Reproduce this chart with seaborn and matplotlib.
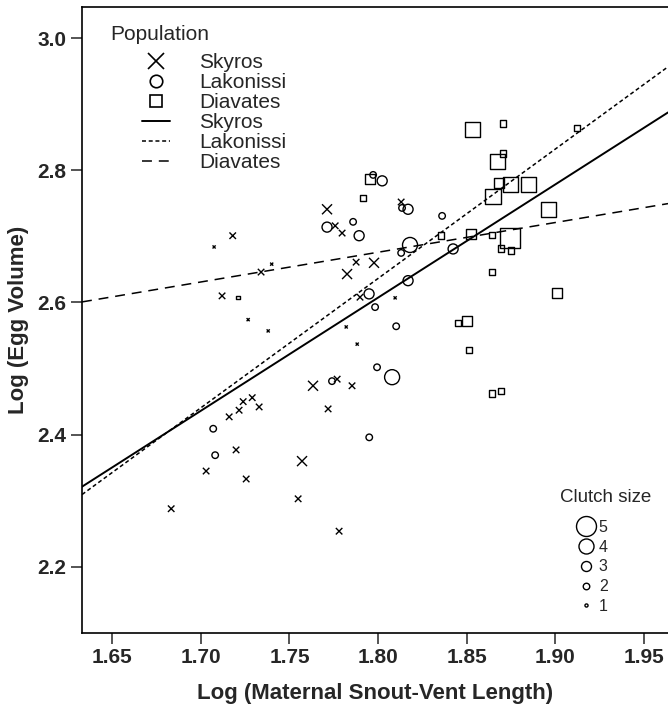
import numpy as np
import pandas as pd
import matplotlib
matplotlib.use("Agg")
import matplotlib.pyplot as plt
import seaborn as sns
from matplotlib.lines import Line2D

# ======== data ========
# Skyros (x markers)
skyros_svl = [1.718, 1.7075, 1.734, 1.740, 1.712, 1.7267, 1.738, 1.7712, 1.7758, 1.7797,
              1.7825, 1.7876, 1.7977, 1.813, 1.7898, 1.8096, 1.7633, 1.7769, 1.729, 1.7239,
              1.7216, 1.7329, 1.716, 1.7199, 1.703, 1.7256, 1.7571, 1.7549, 1.6833, 1.778,
              1.7718, 1.7853, 1.782, 1.7882]
skyros_egg = [2.701, 2.684, 2.646, 2.658, 2.610, 2.574, 2.557, 2.741, 2.716, 2.705,
              2.643, 2.661, 2.660, 2.752, 2.608, 2.607, 2.474, 2.484, 2.456, 2.450,
              2.437, 2.442, 2.427, 2.377, 2.345, 2.333, 2.360, 2.303, 2.288, 2.254,
              2.439, 2.474, 2.563, 2.537]
skyros_clutch = [2, 1, 2, 1, 2, 1, 1, 3, 2, 2,
                 3, 2, 3, 2, 2, 1, 3, 2, 2, 2,
                 2, 2, 2, 2, 2, 2, 3, 2, 2, 2,
                 2, 2, 1, 1]

# Lakonissi (circles)
lakonissi_svl = [1.7712, 1.707, 1.7081, 1.774, 1.8023, 1.7972, 1.8135, 1.8169, 1.8361, 1.7859,
                 1.7893, 1.818, 1.813, 1.8423, 1.8169, 1.7949, 1.7983, 1.8102, 1.7994, 1.8079,
                 1.795]
lakonissi_egg = [2.714, 2.409, 2.369, 2.481, 2.784, 2.793, 2.743, 2.741, 2.731, 2.722,
                 2.701, 2.687, 2.675, 2.681, 2.633, 2.613, 2.593, 2.564, 2.502, 2.487,
                 2.396]
lakonissi_clutch = [3, 2, 2, 2, 3, 2, 2, 3, 2, 2,
                    3, 4, 2, 3, 3, 3, 2, 2, 2, 4,
                    2]

# Diavates (squares)
diavates_svl = [1.853, 1.8705, 1.8671, 1.8705, 1.8682, 1.8744, 1.8846, 1.8648, 1.8959, 1.7955,
                1.7915, 1.8355, 1.8524, 1.8643, 1.8744, 1.8694, 1.875, 1.8643, 1.901, 1.8451,
                1.8502, 1.8513, 1.8643, 1.8694, 1.9122, 1.721]
diavates_egg = [2.861, 2.871, 2.814, 2.825, 2.781, 2.779, 2.779, 2.761, 2.741, 2.787,
                2.758, 2.701, 2.704, 2.702, 2.698, 2.682, 2.679, 2.646, 2.614, 2.569,
                2.572, 2.528, 2.462, 2.466, 2.864, 2.608]
diavates_clutch = [4, 2, 4, 2, 3, 4, 4, 4, 4, 3,
                   2, 2, 3, 2, 5, 2, 2, 2, 3, 2,
                   3, 2, 2, 2, 2, 1]

# fitted lines (log egg volume = a + b * log SVL)
fit_pops = ["Skyros", "Lakonissi", "Diavates"]
fit_intercept = [-0.476, -0.888, 1.866]
fit_slope = [1.713, 1.958, 0.450]

clutch_levels = [5, 4, 3, 2, 1]
# ===========================================

XLIM = (1.633, 1.9635)
YLIM = (2.10, 3.047)
SIZES = {1: 5, 2: 22, 3: 52, 4: 117, 5: 207}
W, H = 668, 708
AX_L, AX_B, AX_T = 82, 633, 7  # axes edges in pixels


def ax_frac(px, py):
    # pixel position (from top-left) -> axes fraction
    return (px - AX_L) / (W - AX_L), (AX_B - py) / (AX_B - AX_T)


sns.set_style("white")
plt.rcParams["font.family"] = ["Liberation Sans", "DejaVu Sans"]

fig = plt.figure(figsize=(W / 100, H / 100), dpi=100)
ax = fig.add_axes([AX_L / W, (H - AX_B) / H, 1 - AX_L / W, (AX_B - AX_T) / H])

pops = {
    "Skyros": (skyros_svl, skyros_egg, skyros_clutch, "x"),
    "Lakonissi": (lakonissi_svl, lakonissi_egg, lakonissi_clutch, "o"),
    "Diavates": (diavates_svl, diavates_egg, diavates_clutch, "s"),
}
for name, (sx, sy, sc, mk) in pops.items():
    df = pd.DataFrame({"svl": sx, "egg": sy, "clutch": sc})
    kw = dict(color="black", linewidth=1.0)
    if mk != "x":
        kw["facecolors"] = "none"
        kw["edgecolor"] = "black"
    sns.scatterplot(data=df, x="svl", y="egg", size="clutch", sizes=SIZES,
                    marker=mk, legend=False, ax=ax, **kw)

line_styles = {
    "Skyros": dict(linestyle="-", linewidth=1.4),
    "Lakonissi": dict(linestyle=(0, (2.6, 1.8)), linewidth=1.1),
    "Diavates": dict(linestyle=(0, (6.5, 4.5)), linewidth=1.1),
}
for name, a, b in zip(fit_pops, fit_intercept, fit_slope):
    xs = np.array(XLIM)
    ln = pd.DataFrame({"x": xs, "y": a + b * xs})
    sns.lineplot(data=ln, x="x", y="y", color="black", ax=ax, **line_styles[name])

ax.set_xlim(*XLIM)
ax.set_ylim(*YLIM)
ax.set_xticks([1.65, 1.70, 1.75, 1.80, 1.85, 1.90, 1.95])
ax.set_xticklabels(["1.65", "1.70", "1.75", "1.80", "1.85", "1.90", "1.95"])
ax.set_yticks([2.2, 2.4, 2.6, 2.8, 3.0])
ax.set_yticklabels(["2.2", "2.4", "2.6", "2.8", "3.0"])
ax.tick_params(axis="both", direction="out", length=8, width=1.1, labelsize=15, pad=3,
               left=True, bottom=True)
for t in ax.get_xticklabels() + ax.get_yticklabels():
    t.set_fontweight("bold")
ax.set_xlabel("Log (Maternal Snout-Vent Length)", fontsize=16, fontweight="bold", labelpad=11)
ax.set_ylabel("Log (Egg Volume)", fontsize=16, fontweight="bold", labelpad=6)
for side in ["left", "bottom", "top"]:
    ax.spines[side].set_visible(True)
    ax.spines[side].set_linewidth(1.2)
    ax.spines[side].set_color("black")
ax.spines["right"].set_visible(False)

# population legend (title drawn separately so the keys sit indented under it)
tx, ty = ax_frac(110, 35)
ax.text(tx, ty, "Population", transform=ax.transAxes, fontsize=15, va="center", ha="left")
pop_handles = [
    Line2D([], [], marker="x", ls="none", color="black", ms=11, mew=1.2),
    Line2D([], [], marker="o", ls="none", color="black", mfc="none", ms=9, mew=1.2),
    Line2D([], [], marker="s", ls="none", color="black", mfc="none", ms=8.5, mew=1.2),
    Line2D([], [], color="black", **line_styles["Skyros"]),
    Line2D([], [], color="black", **line_styles["Lakonissi"]),
    Line2D([], [], color="black", **line_styles["Diavates"]),
]
pop_labels = ["Skyros", "Lakonissi", "Diavates", "Skyros", "Lakonissi", "Diavates"]
lx, ly = ax_frac(142, 53)
leg1 = ax.legend(pop_handles, pop_labels, loc="upper left", bbox_to_anchor=(lx, ly),
                 frameon=False, fontsize=15, handlelength=1.35, handletextpad=1.4,
                 labelspacing=0.05, borderpad=0, borderaxespad=0)
ax.add_artist(leg1)

# clutch size legend
ctx, cty = ax_frac(560, 498)
ax.text(ctx, cty, "Clutch size", transform=ax.transAxes, fontsize=13.5, va="center", ha="left")
cs_handles = [Line2D([], [], marker="o", ls="none", color="black", mfc="none",
                     ms=np.sqrt(SIZES[c]), mew=1.0) for c in clutch_levels]
cx, cy = ax_frac(578, 614)
leg2 = ax.legend(cs_handles, [str(c) for c in clutch_levels],
                 loc="lower left", bbox_to_anchor=(cx, cy), frameon=False,
                 fontsize=11.5, handlelength=1.0, handletextpad=0.3,
                 labelspacing=0.3, borderpad=0, borderaxespad=0)

fig.savefig("out.png", dpi=100)
